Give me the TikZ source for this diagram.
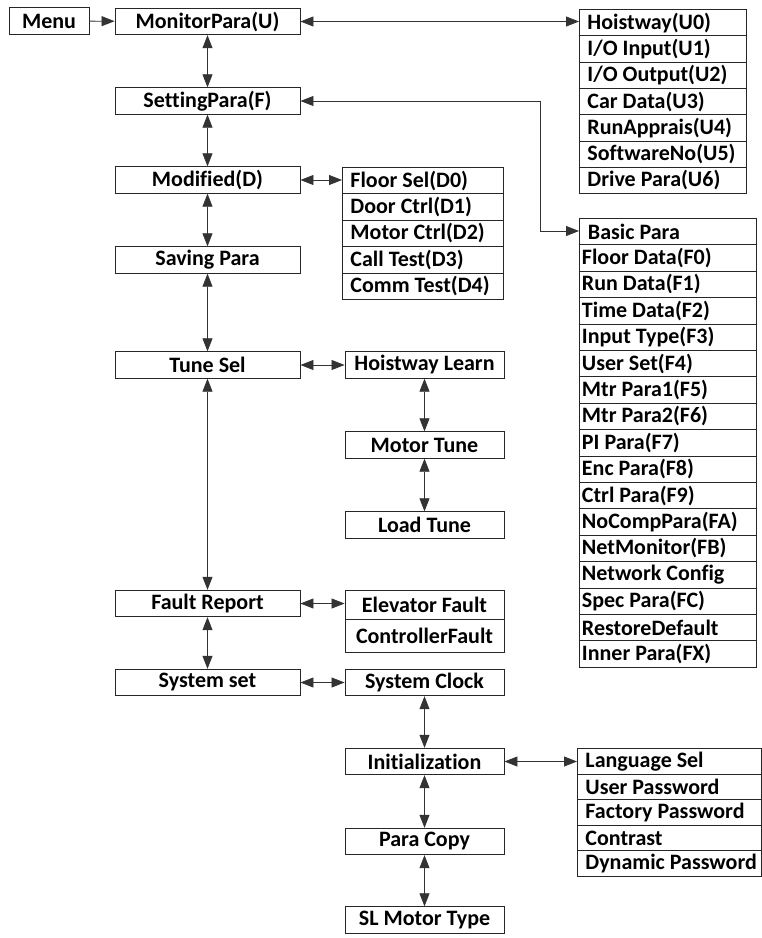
\documentclass[tikz,border=0pt]{standalone}
\usepackage{fontspec}
\setmainfont{Carlito}[Ligatures=NoCommon]
\usepackage{tikz}
\usetikzlibrary{arrows.meta, positioning, calc}

\newcommand{\rowtext}[2]{\makebox[#1][l]{#2}}

\begin{document}
\begin{tikzpicture}[x=1pt, y=-1pt,
  every node/.style={font=\bfseries\fontsize{22}{26}\selectfont},
  box/.style={draw=black!85, line width=0.9pt, inner sep=0pt, minimum height=26.5pt},
  menubox/.style={box, minimum width=185pt},
  subbox/.style={box, minimum width=159pt},
  rowbox/.style={draw=black!85, line width=0.9pt, anchor=north west, inner ysep=0pt,
    inner xsep=#1, minimum height=26.4pt},
  tip/.tip={Triangle[length=13pt,width=10pt]},
  link/.style={line width=0.8pt, black!80, tip-tip},
  onelink/.style={line width=0.8pt, black!80, -tip}
]
  \useasboundingbox (0,0) rectangle (762,938);

  % main column
  \node[box, minimum width=80pt] (menu) at (49,21) {Menu};
  \node[menubox] (monitor)  at (207.5,21.5) {MonitorPara(U)};
  \node[menubox] (setting)  at (207.5,101)  {SettingPara(F)};
  \node[menubox] (modified) at (207.5,180)  {Modified(D)};
  \node[menubox] (saving)   at (207.5,260)  {Saving Para};
  \node[menubox] (tunesel)  at (207.5,365)  {Tune Sel};
  \node[menubox] (fault)    at (207.5,603.5) {Fault Report};
  \node[menubox] (sysset)   at (207.5,682.5) {System set};

  % second column
  \node[subbox] (hlearn)    at (424.5,365)  {Hoistway Learn};
  \node[subbox] (mtune)     at (424.5,445)  {Motor Tune};
  \node[subbox] (ltune)     at (424.5,525)  {Load Tune};
  \node[subbox, minimum height=29pt] (elevfault) at (424.5,604.5) {Elevator Fault};
  \node[subbox, minimum height=33pt] (ctrlfault) at (424.5,635.5) {ControllerFault};
  \node[subbox] (sysclock)  at (424.5,682.5) {System Clock};
  \node[subbox] (init)      at (424.5,761.5) {Initialization};
  \node[subbox] (paracopy)  at (424.5,841.5) {Para Copy};
  \node[subbox] (slmotor)   at (424.5,920)  {SL Motor Type};

  % lists
  \foreach \i/\lab in {0/Floor Sel(D0), 1/Door Ctrl(D1), 2/Motor Ctrl(D2),
                       3/Call Test(D3), 4/Comm Test(D4)}
    \node[rowbox=8pt] (d\i) at (342,167+\i*26.4) {\rowtext{145pt}{\lab}};

  \foreach \i/\lab in {0/Hoistway(U0), 1/{I/O Input(U1)}, 2/{I/O Output(U2)},
                       3/Car Data(U3), 4/RunApprais(U4), 5/SoftwareNo(U5), 6/Drive Para(U6)}
    \node[rowbox=8pt, minimum height=26.3pt] (u\i) at (579,9+\i*26.3) {\rowtext{151pt}{\lab}};

  \foreach \i/\lab in {0/\hspace{6pt}Basic Para, 1/Floor Data(F0), 2/Run Data(F1), 3/Time Data(F2),
                       4/Input Type(F3), 5/User Set(F4), 6/Mtr Para1(F5), 7/Mtr Para2(F6),
                       8/PI Para(F7), 9/Enc Para(F8), 10/Ctrl Para(F9), 11/NoCompPara(FA),
                       12/NetMonitor(FB), 13/Network Config, 14/Spec Para(FC),
                       15/RestoreDefault, 16/Inner Para(FX)}
    \node[rowbox=2.5pt] (f\i) at (579,218+\i*26.4) {\rowtext{172pt}{\lab}};

  \foreach \i/\lab in {0/Language Sel, 1/User Password, 2/Factory Password,
                       3/Contrast, 4/Dynamic Password}
    \node[rowbox=8pt, minimum height=25.6pt] (lang\i) at (577,748+\i*25.6) {\rowtext{168pt}{\lab}};

  % connectors
  \draw[onelink] (menu) -- (monitor);
  \draw[link] (monitor) -- (setting);
  \draw[link] (setting) -- (modified);
  \draw[link] (modified) -- (saving);
  \draw[link] (saving) -- (tunesel);
  \draw[link] (tunesel) -- (fault);
  \draw[link] (fault) -- (sysset);

  \draw[link] (hlearn) -- (mtune);
  \draw[link] (mtune) -- (ltune);
  \draw[link] (sysclock) -- (init);
  \draw[link] (init) -- (paracopy);
  \draw[link] (paracopy) -- (slmotor);

  \draw[link] (monitor.east) -- (monitor.east -| u0.west);
  \coordinate (fbend) at (540,231);
  \draw[link] (setting.east) -| (fbend) -- (f0.west |- fbend);
  \draw[link] (modified.east) -- (modified.east -| d0.west);
  \draw[link] (tunesel) -- (hlearn);
  \draw[link] (fault.east) -- (fault.east -| elevfault.west);
  \draw[link] (sysset) -- (sysclock);
  \draw[link] (init.east) -- (init.east -| lang0.west);
\end{tikzpicture}
\end{document}
